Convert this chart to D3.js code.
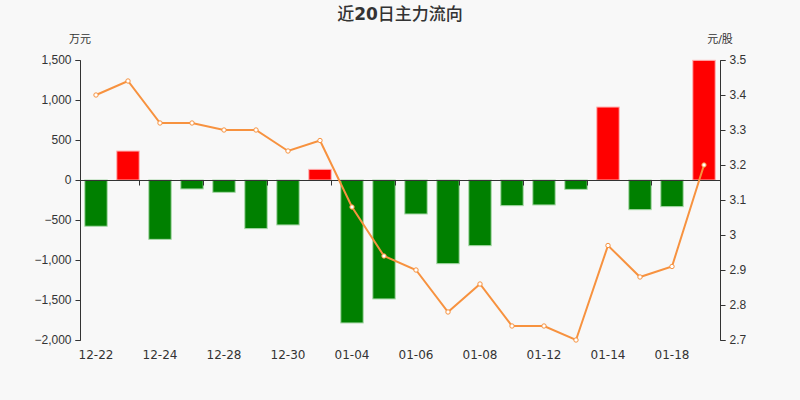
<!DOCTYPE html>
<html>
<head>
<meta charset="utf-8">
<script src="https://cdn.jsdelivr.net/npm/d3@7"></script>
<style>
  body { margin: 0; background: #f8f8f8; }
  svg { display: block; font-family: "DejaVu Sans", "Noto Sans CJK SC", sans-serif; }
  .axis text { fill: #333; font-size: 12px; }
  .axis path, .axis line { stroke: #333; }
</style>
</head>
<body>
<div id="chart"></div>
<script>
// data
const dates = ["12-22", "12-23", "12-24", "12-27", "12-28", "12-29", "12-30", "12-31", "01-04", "01-05",
               "01-06", "01-07", "01-08", "01-11", "01-12", "01-13", "01-14", "01-15", "01-18", "01-19"];
const flows = [-578, 362, -742, -112, -154, -608, -562, 133, -1787, -1487,
               -425, -1046, -821, -321, -312, -117, 912, -371, -333, 1496];
const prices = [3.40, 3.44, 3.32, 3.32, 3.30, 3.30, 3.24, 3.27, 3.08, 2.94,
                2.90, 2.78, 2.86, 2.74, 2.74, 2.70, 2.97, 2.88, 2.91, 3.20];
const leftTicks = [-2000, -1500, -1000, -500, 0, 500, 1000, 1500];
const rightTicks = [2.7, 2.8, 2.9, 3, 3.1, 3.2, 3.3, 3.4, 3.5];

const width = 800, height = 400;
const margin = {top: 60, right: 80, bottom: 60, left: 80};

const svg = d3.select("#chart").append("svg")
    .attr("width", width)
    .attr("height", height);

svg.append("rect").attr("width", width).attr("height", height).attr("fill", "#f8f8f8");

// title - digits bold, CJK in regular weight like the original
const title = svg.append("text")
    .attr("x", width / 2)
    .attr("y", 20)
    .attr("text-anchor", "middle")
    .attr("font-size", 17)
    .attr("fill", "#333");
title.append("tspan").attr("font-weight", 500).text("近");
title.append("tspan").attr("font-weight", "bold").text("20");
title.append("tspan").attr("font-weight", 500).text("日主力流向");

const x = d3.scaleBand()
    .domain(dates)
    .range([margin.left, width - margin.right])
    .paddingInner(0.3)
    .paddingOuter(0.15);

const y = d3.scaleLinear()
    .domain([-2000, 1500])
    .range([height - margin.bottom, margin.top]);

const y2 = d3.scaleLinear()
    .domain([2.7, 3.5])
    .range([height - margin.bottom, margin.top]);

// left axis
const leftAxis = svg.append("g")
    .attr("class", "axis")
    .attr("transform", `translate(${margin.left + 0.5},0)`)
    .call(d3.axisLeft(y).tickValues(leftTicks).tickSize(5).tickPadding(4).tickFormat(d3.format(",")));
leftAxis.select(".domain").attr("d", `M-5,${y(-2000) + 0.5}H0V${y(1500) + 0.5}H-5`);

// right axis
const rightAxis = svg.append("g")
    .attr("class", "axis")
    .attr("transform", `translate(${width - margin.right + 0.5},0)`)
    .call(d3.axisRight(y2).tickValues(rightTicks).tickSize(5).tickPadding(4).tickFormat(d => d3.format("")(+d.toFixed(1))));
rightAxis.select(".domain").attr("d", `M5,${y2(2.7) + 0.5}H0V${y2(3.5) + 0.5}H5`);

// unit labels
svg.append("text").attr("x", 80).attr("y", 43).attr("text-anchor", "middle")
    .attr("font-size", 11).attr("fill", "#333").text("万元");
svg.append("text").attr("x", 720).attr("y", 43).attr("text-anchor", "middle")
    .attr("font-size", 11).attr("fill", "#333").text("元/股");

// bars
svg.selectAll(".bar")
    .data(flows)
    .join("rect")
    .attr("class", "bar")
    .attr("x", (d, i) => x(dates[i]))
    .attr("y", d => y(Math.max(0, d)))
    .attr("width", x.bandwidth())
    .attr("height", d => Math.abs(y(d) - y(0)))
    .attr("fill", d => d >= 0 ? "#ff0000" : "#008000")
    .attr("stroke", d => d >= 0 ? "#ffb0b0" : "#a8d8a8")
    .attr("stroke-width", 1);

// zero line with ticks between every other category
const step = x.step();
const zeroY = Math.round(y(0)) + 0.5;
svg.append("line")
    .attr("x1", margin.left).attr("x2", width - margin.right)
    .attr("y1", zeroY).attr("y2", zeroY)
    .attr("stroke", "#333");
svg.selectAll(".xtick")
    .data(dates.filter((d, i) => i % 2 === 0 && i > 0))
    .join("line")
    .attr("class", "xtick")
    .attr("x1", d => Math.round(x(d) - step * x.paddingOuter() * 2) + 0.5)
    .attr("x2", d => Math.round(x(d) - step * x.paddingOuter() * 2) + 0.5)
    .attr("y1", zeroY).attr("y2", zeroY + 5)
    .attr("stroke", "#333");

// x labels at bottom
svg.selectAll(".xlabel")
    .data(dates.filter((d, i) => i % 2 === 0))
    .join("text")
    .attr("class", "xlabel")
    .attr("x", d => x(d) + x.bandwidth() / 2)
    .attr("y", height - margin.bottom + 19)
    .attr("text-anchor", "middle")
    .attr("font-size", 12)
    .attr("fill", "#333")
    .text(d => d);

// price line
const cx = (d, i) => x(dates[i]) + x.bandwidth() / 2;
const line = d3.line()
    .x(cx)
    .y(d => y2(d));

svg.append("path")
    .datum(prices)
    .attr("d", line)
    .attr("fill", "none")
    .attr("stroke", "#f7923f")
    .attr("stroke-width", 2);

svg.selectAll(".dot")
    .data(prices)
    .join("circle")
    .attr("class", "dot")
    .attr("cx", cx)
    .attr("cy", d => y2(d))
    .attr("r", 2.2)
    .attr("fill", "#fff")
    .attr("stroke", "#f7923f")
    .attr("stroke-width", 1);
</script>
</body>
</html>
